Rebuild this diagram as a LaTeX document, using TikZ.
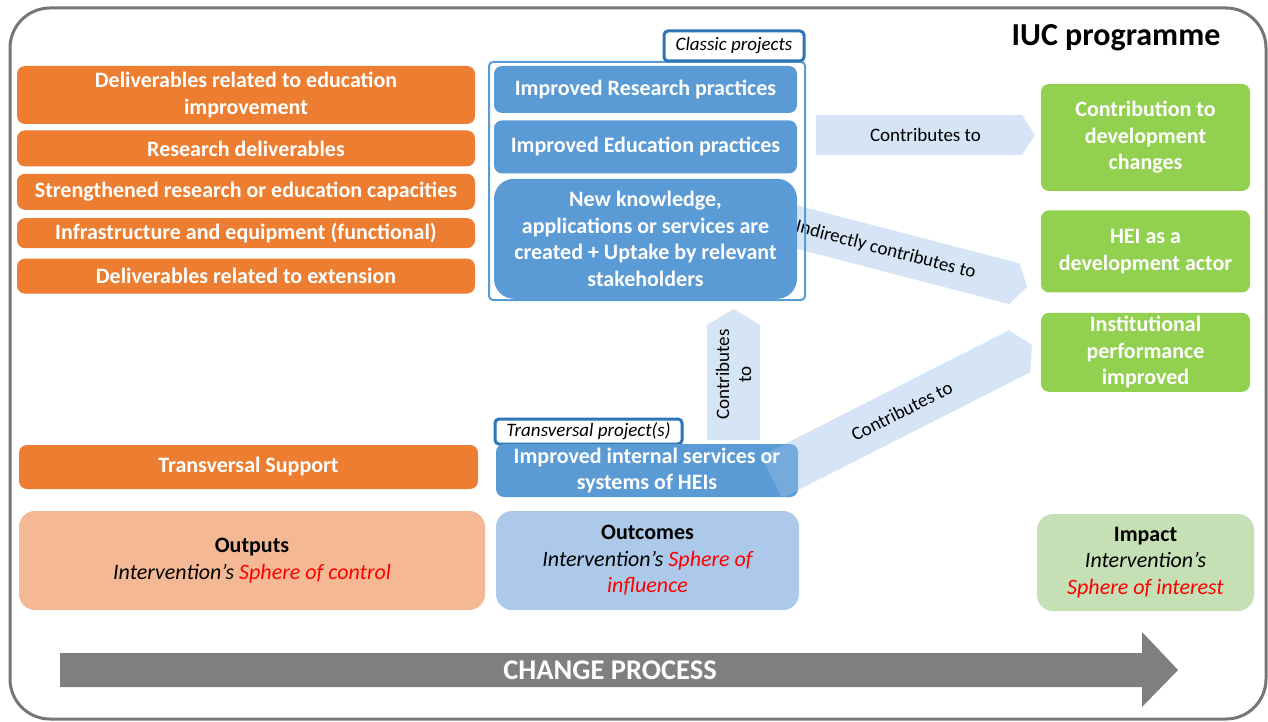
\documentclass[tikz,border=0pt]{standalone}
\usepackage{fontspec}
\setmainfont{Carlito}
\usetikzlibrary{positioning}

\definecolor{outorange}{HTML}{ED7D31}
\definecolor{outlight}{HTML}{F4B994}
\definecolor{outcblue}{HTML}{5B9BD5}
\definecolor{outclight}{HTML}{ADC9E9}
\definecolor{impgreen}{HTML}{92D050}
\definecolor{implight}{HTML}{C5E0B4}
\definecolor{tagblue}{HTML}{2E75B6}
\definecolor{flowblue}{HTML}{D5E5F5}
\definecolor{framegray}{HTML}{767676}
\definecolor{processgray}{HTML}{7F7F7F}

\begin{document}
\begin{tikzpicture}[
        x=1pt, y=-1pt,
        size/.style 2 args={minimum width=#1pt, minimum height=#2pt},
        box/.style={rounded corners=8pt, inner sep=0pt, align=center, text=white, font=\bfseries\fontsize{22}{26.5}\selectfont},
        outbox/.style={box, fill=outorange},
        outcbox/.style={box, fill=outcblue},
        impbox/.style={box, fill=impgreen},
        sphere/.style={rounded corners=16pt, inner sep=0pt, align=center, font=\fontsize{22}{26.5}\selectfont},
        tag/.style={draw=tagblue, line width=3pt, fill=white, rounded corners=4pt, inner sep=0pt, font=\itshape\fontsize{19}{22}\selectfont},
        % block arrow: length, width, label, head length (drawn back from its tip)
        pics/flowarrow/.style n args={4}{code={
            \fill[flowblue] (0,0) -- (-#4,#2/2) -- (-#1,#2/2) -- (-#1,-#2/2) -- (-#4,-#2/2) -- cycle;
            \node[transform shape, text opacity=1, align=center, font=\fontsize{19}{22}\selectfont] (-label) at (-#1/2,0) {#3};
        }}
    ]
    \useasboundingbox (0,0) rectangle (1268,722);

    % frame of the programme
    \draw[framegray, line width=3pt, rounded corners=40pt] (10,8) rectangle (1266,719);
    \node[font=\bfseries\fontsize{32}{38}\selectfont] (title) at (1116,38) {IUC programme};

    % block arrows lying under the boxes
    \pic (toDev) at (1035,135) {flowarrow={219}{40}{Contributes to}{13}};
    \pic[rotate=-14.6] (toHei) at (1027,287) {flowarrow={292}{42}{Indirectly contributes to}{13}};
    \pic[rotate=90] (toClassic) at (733.5,309) {flowarrow={131}{53}{Contributes\\to}{16}};
    \pic[rotate=26.9] (toInstBase) at (1032,345) {flowarrow={292}{47}{}{14}};

    % outputs
    \node[outbox, size={458}{58}] (delEdu) at (246,95) {Deliverables related to education\\improvement};
    \node[outbox, size={458}{36}, below=6pt of delEdu] (delRes) {Research deliverables};
    \node[outbox, size={458}{36}, below=7pt of delRes] (capacity) {Strengthened research or education capacities};
    \node[outbox, size={458}{30}, below=8pt of capacity] (infra) {Infrastructure and equipment (functional)};
    \node[outbox, size={458}{35}, below=10pt of infra] (delExt) {Deliverables related to extension};
    \node[outbox, size={459}{44}] (transSupport) at (248.5,467) {Transversal Support};

    % outcomes
    \node[draw=outcblue, line width=2pt, rounded corners=4pt, size={316}{238}] (classic) at (647,181) {};
    \node[tag, size={140}{30}] (classicTag) at (734,46) {Classic projects};
    \node[outcbox, size={303}{47}] (resPractice) at (645.5,89.5) {Improved Research practices};
    \node[outcbox, size={303}{53}, below=7pt of resPractice] (eduPractice) {Improved Education practices};
    \node[outcbox, rounded corners=20pt, size={303}{120}, below=5pt of eduPractice] (knowledge) {New knowledge,\\applications or services are\\created + Uptake by relevant\\stakeholders};
    \node[tag, size={187}{25}] (transTag) at (588.5,431.5) {Transversal project(s)};
    \node[outcbox, size={302}{53}] (services) at (647,470.5) {Improved internal services or\\systems of HEIs};

    % impact
    \node[impbox, size={209}{107}] (devChange) at (1145.5,137.5) {Contribution to\\development\\changes};
    \node[impbox, size={209}{82}, below=19pt of devChange] (heiActor) {HEI as a\\development actor};
    \node[impbox, size={209}{79}, below=20pt of heiActor] (instPerf) {Institutional\\performance\\improved};

    % same arrow again, as a light tint over the services box
    \pic[rotate=26.9, fill opacity=0.22] (toInst) at (1032,345) {flowarrow={292}{47}{Contributes to}{14}};

    % spheres
    \node[sphere, fill=outlight, size={466}{99}] (outputs) at (252,560.5) {\textbf{Outputs}\\\textit{Intervention’s \textcolor{red}{Sphere of control}}};
    \node[sphere, fill=outclight, size={303}{99}] (outcomes) at (647.5,560.5) {\textbf{Outcomes}\\\textit{Intervention’s \textcolor{red}{Sphere of}}\\\textit{\textcolor{red}{influence}}};
    \node[sphere, fill=implight, size={217}{97}] (impact) at (1145.5,562.5) {\textbf{Impact}\\\textit{Intervention’s}\\\textit{\textcolor{red}{Sphere of interest}}};

    % change process
    \fill[processgray] (60,653) -- (1142,653) -- (1142,632) -- (1178,670) -- (1142,707) -- (1142,687) -- (60,687) -- cycle;
    \node[text=white, font=\bfseries\fontsize{28.5}{32}\selectfont] (process) at (610,670) {CHANGE PROCESS};

\end{tikzpicture}
\end{document}
